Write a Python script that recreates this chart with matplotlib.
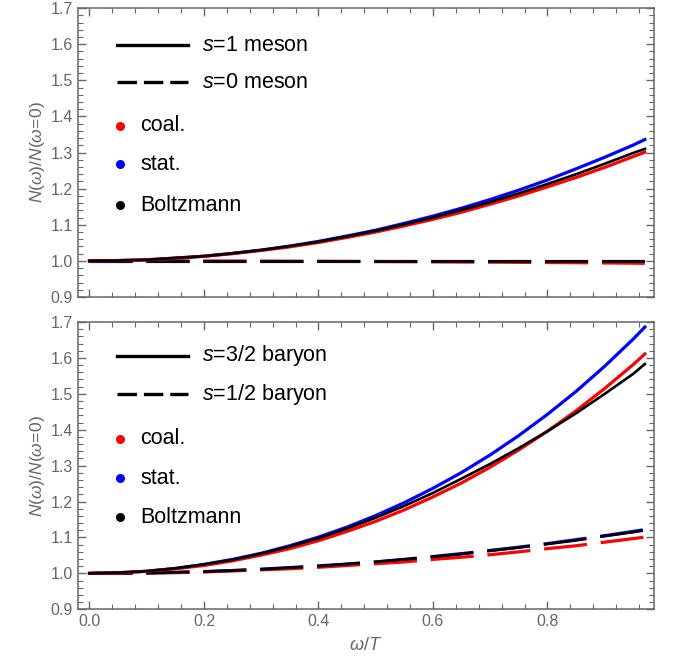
import numpy as np
import matplotlib
matplotlib.use("Agg")
from matplotlib import pyplot as plt
from matplotlib.ticker import MultipleLocator, FormatStrFormatter

plt.rcParams['font.family'] = ['Liberation Sans', 'DejaVu Sans']
plt.rcParams['mathtext.fontset'] = 'custom'
plt.rcParams['mathtext.it'] = 'Liberation Sans:italic'
plt.rcParams['mathtext.rm'] = 'Liberation Sans'
plt.rcParams['lines.scale_dashes'] = False

# omega/T grid where the curves were read
w = [0.0, 0.05, 0.1, 0.15, 0.2, 0.25, 0.3, 0.35, 0.4, 0.45, 0.5,
     0.55, 0.6, 0.65, 0.7, 0.75, 0.8, 0.85, 0.9, 0.95, 0.97]

# mesons: s=1 (solid), s=0 (dashed)
meson_s1_coal = [1.0, 1.001, 1.003, 1.007, 1.013, 1.020, 1.029, 1.039, 1.051, 1.065, 1.080,
                 1.097, 1.115, 1.135, 1.157, 1.180, 1.205, 1.231, 1.259, 1.289, 1.301]
meson_s1_stat = [1.0, 1.001, 1.003, 1.008, 1.013, 1.021, 1.030, 1.041, 1.054, 1.069, 1.085,
                 1.104, 1.124, 1.146, 1.170, 1.196, 1.224, 1.255, 1.287, 1.321, 1.336]
meson_s1_boltz = [1.0, 1.001, 1.003, 1.008, 1.013, 1.021, 1.030, 1.041, 1.053, 1.068, 1.083,
                  1.101, 1.120, 1.141, 1.163, 1.187, 1.213, 1.240, 1.269, 1.299, 1.310]
meson_s0_coal = [1.0, 1.0, 1.0, 1.0, 0.9997, 0.9996, 0.9994, 0.9991, 0.9989, 0.9986, 0.9983,
                 0.998, 0.9975, 0.997, 0.9966, 0.996, 0.9955, 0.995, 0.9944, 0.9937, 0.9934]
meson_s0_stat = [1.0] * 21
meson_s0_boltz = [1.0] * 21

# baryons: s=3/2 (solid), s=1/2 (dashed)
baryon_s32_coal = [1.0, 1.001, 1.006, 1.013, 1.022, 1.035, 1.051, 1.069, 1.091, 1.117, 1.145,
                   1.177, 1.213, 1.252, 1.296, 1.344, 1.396, 1.453, 1.515, 1.582, 1.611]
baryon_s32_stat = [1.0, 1.002, 1.006, 1.014, 1.025, 1.039, 1.056, 1.077, 1.101, 1.129, 1.161,
                   1.197, 1.237, 1.281, 1.330, 1.384, 1.443, 1.507, 1.577, 1.653, 1.686]
baryon_s32_boltz = [1.0, 1.002, 1.006, 1.014, 1.025, 1.038, 1.055, 1.075, 1.098, 1.125, 1.155,
                    1.188, 1.224, 1.264, 1.305, 1.349, 1.396, 1.446, 1.500, 1.556, 1.583]
baryon_s12_coal = [1.0, 1.0003, 1.001, 1.002, 1.004, 1.007, 1.010, 1.013, 1.017, 1.022, 1.027,
                   1.032, 1.039, 1.045, 1.052, 1.060, 1.069, 1.077, 1.087, 1.097, 1.101]
baryon_s12_stat = [1.0, 1.0003, 1.001, 1.003, 1.005, 1.008, 1.012, 1.016, 1.021, 1.026, 1.032,
                   1.039, 1.047, 1.055, 1.064, 1.073, 1.083, 1.094, 1.105, 1.117, 1.122]
baryon_s12_boltz = [1.0, 1.0003, 1.001, 1.003, 1.005, 1.008, 1.011, 1.016, 1.020, 1.026, 1.032,
                    1.039, 1.046, 1.054, 1.063, 1.072, 1.082, 1.092, 1.104, 1.115, 1.120]

gray = '#666666'
dash = (31, 10)


def draw_panel(ax, solid, dashed, labels, show_x):
    for ys, c, lw in zip(dashed, ['blue', 'red', 'black'], [2.3, 2.3, 2.0]):
        ax.plot(w, ys, color=c, lw=lw, dashes=dash, solid_capstyle='butt')
    for ys, c, lw in zip(solid, ['blue', 'red', 'black'], [2.3, 2.3, 1.9]):
        ax.plot(w, ys, color=c, lw=lw)

    ax.set_xlim(-0.02, 0.986)
    ax.set_ylim(0.9, 1.7)
    ax.xaxis.set_major_locator(MultipleLocator(0.2))
    ax.xaxis.set_minor_locator(MultipleLocator(0.04))
    ax.yaxis.set_major_locator(MultipleLocator(0.1))
    ax.yaxis.set_minor_locator(MultipleLocator(0.02))
    ax.tick_params(which='both', direction='in', top=True, right=True,
                   color=gray, labelcolor=gray, labelsize=11.5)
    ax.tick_params(which='major', length=6, width=1)
    ax.tick_params(which='minor', length=3.5, width=0.8)
    ax.yaxis.set_major_formatter(FormatStrFormatter('%.1f'))
    ax.xaxis.set_major_formatter(FormatStrFormatter('%.1f'))
    if not show_x:
        ax.tick_params(labelbottom=False)
    for sp in ax.spines.values():
        sp.set_color(gray)
        sp.set_linewidth(1.1)
    ax.set_ylabel(r'$N(\omega)/N(\omega\!=\!0)$', color=gray, fontsize=12.5, labelpad=3)

    # legend drawn by hand to match the layout
    ly = labels['ly']
    ax.plot([0.068, 0.191], [ly[0], ly[0]], color='black', lw=2.4, transform=ax.transAxes)
    ax.plot([0.068, 0.191], [ly[1], ly[1]], color='black', lw=2.4, dashes=(14, 5),
            transform=ax.transAxes)
    ax.text(0.215, ly[0], labels['s'][0], transform=ax.transAxes, va='center', fontsize=15.5)
    ax.text(0.215, ly[1], labels['s'][1], transform=ax.transAxes, va='center', fontsize=15.5)
    for y, c, t in zip(ly[2:], ['red', 'blue', 'black'], ['coal.', 'stat.', 'Boltzmann']):
        ax.plot([0.073], [y], 'o', color=c, ms=5.5, transform=ax.transAxes)
        ax.text(0.108, y, t, transform=ax.transAxes, va='center', fontsize=15.5)


fig = plt.figure(figsize=(6.78, 6.72), dpi=100)
ax1 = fig.add_axes([0.115, 0.558, 0.8496, 0.430])
ax2 = fig.add_axes([0.115, 0.0933, 0.8496, 0.4275])

draw_panel(ax1,
           [meson_s1_stat, meson_s1_coal, meson_s1_boltz],
           [meson_s0_stat, meson_s0_coal, meson_s0_boltz],
           {'ly': [0.872, 0.744, 0.592, 0.460, 0.318],
            's': [r'$s$=1 meson', r'$s$=0 meson']}, False)
draw_panel(ax2,
           [baryon_s32_stat, baryon_s32_coal, baryon_s32_boltz],
           [baryon_s12_stat, baryon_s12_coal, baryon_s12_boltz],
           {'ly': [0.882, 0.749, 0.593, 0.457, 0.321],
            's': [r'$s$=3/2 baryon', r'$s$=1/2 baryon']}, True)
ax2.set_xlabel(r'$\omega/T$', color=gray, fontsize=13, labelpad=6)

fig.savefig('out.png', dpi=100)
